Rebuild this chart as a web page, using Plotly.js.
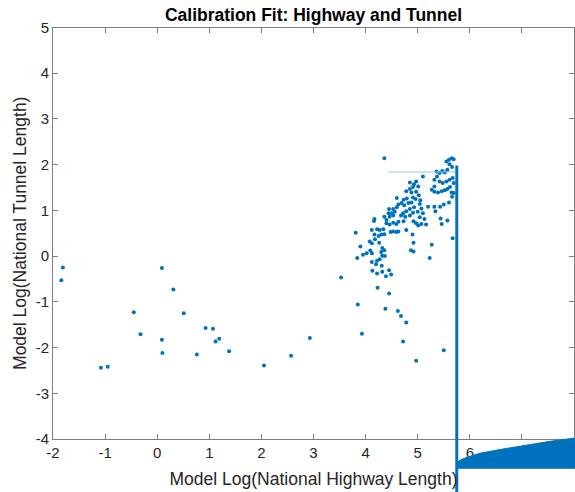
<!DOCTYPE html>
<html>
<head>
<meta charset="utf-8">
<script src="https://cdn.plot.ly/plotly-3.0.1.min.js"></script>
<style>html,body{margin:0;padding:0;background:#fff;}#chart{width:575px;height:492px;}</style>
</head>
<body>
<div id="chart"></div>
<script>
// Scatter: model log highway length (x) vs model log tunnel length (y)
const highwayLog = [
  -1.81,-1.84,0.09,0.31,-0.45,0.51,-0.32,0.93,1.07,1.19,1.12,0.09,0.10,0.76,1.38,-1.08,-0.95,2.05,2.57,2.93,
  5.55,5.60,5.65,5.69,5.61,5.66,5.57,5.52,5.47,5.42,5.36,5.37,5.32,5.42,5.48,5.55,5.61,5.67,5.69,5.62,
  5.57,5.52,5.46,5.39,5.32,5.27,5.32,5.10,4.85,4.93,4.97,4.91,4.85,4.78,4.88,4.97,5.01,5.02,4.91,4.79,
  4.73,4.69,4.74,4.82,4.88,4.96,5.05,5.04,4.93,4.85,4.78,4.72,4.68,4.76,4.85,4.91,5.00,5.07,5.10,5.20,
  5.32,5.34,5.43,5.50,5.60,5.66,5.69,5.65,5.13,5.04,5.44,5.57,
  4.16,4.22,4.27,4.34,4.40,4.46,4.53,4.59,4.63,4.48,4.53,4.59,4.63,4.12,4.17,4.25,4.30,4.36,3.81,4.18,
  4.08,4.12,4.26,3.90,4.09,4.32,4.30,4.36,4.37,4.02,3.95,3.84,4.12,4.32,4.27,4.22,4.12,4.20,4.31,4.13,
  4.32,4.45,4.49,4.39,4.22,3.53,4.23,
  4.73,4.92,4.97,5.01,5.07,5.16,5.46,4.78,4.90,4.92,4.87,4.92,5.27,5.23,5.67,
  4.45,3.85,4.38,4.62,3.93,4.68,4.78,4.72,5.50,4.97,
  4.36,4.60,4.63,4.60,4.53,4.45,4.44,4.50,4.56,4.36,4.46,4.53,4.40,4.17
];
const tunnelLog = [
  -0.25,-0.53,-0.26,-0.73,-1.23,-1.25,-1.71,-1.57,-1.59,-1.81,-1.87,-1.83,-2.12,-2.15,-2.08,-2.44,-2.42,-2.39,-2.18,-1.79,
  2.07,2.11,2.14,2.12,2.01,1.95,1.89,1.83,1.86,1.82,1.85,1.74,1.67,1.63,1.60,1.63,1.67,1.71,1.60,1.51,
  1.47,1.44,1.42,1.39,1.41,1.45,1.52,1.74,1.61,1.57,1.63,1.51,1.47,1.42,1.39,1.41,1.52,1.33,1.28,1.26,
  1.23,1.16,1.11,1.16,1.17,1.25,1.22,1.14,1.07,1.03,0.98,0.94,0.89,0.86,0.89,0.95,0.97,1.04,0.94,1.08,
  1.08,0.98,1.08,1.13,1.17,1.30,1.38,1.39,0.81,0.85,0.82,0.78,
  0.77,0.59,0.57,0.59,0.72,0.69,0.73,0.70,0.75,0.53,0.54,0.53,0.54,0.57,0.47,0.44,0.47,0.48,0.51,0.37,
  0.32,0.28,0.29,0.21,0.12,0.18,0.09,0.13,0.00,0.06,0.03,-0.04,0.06,0.01,-0.07,-0.10,-0.13,-0.18,-0.21,-0.32,
  -0.34,-0.31,-0.40,-0.44,-0.38,-0.47,-0.69,
  0.76,0.76,0.72,0.67,0.70,0.69,0.70,0.57,0.47,0.29,0.13,0.10,0.25,-0.04,0.39,
  -0.82,-1.06,-1.15,-1.20,-1.70,-1.31,-1.45,-1.87,-2.06,-2.29,
  2.14,1.27,1.13,1.07,1.03,1.03,0.94,0.94,0.97,0.86,0.86,0.89,0.79,0.81
];

// Fit artefacts
const hLineX = [4.43, 5.72];
const hLineY = [1.84, 1.84];
const vLineX = [5.75, 5.75];
const vLineY = [1.98, -5.3];
const fillX = [5.75, 5.80, 5.94, 6.20, 6.58, 7.03, 7.54, 8.02, 8.02, 5.75, 5.75];
const fillY = [-4.55, -4.47, -4.40, -4.31, -4.23, -4.14, -4.05, -3.98, -4.64, -4.64, -4.55];

// Axes
const xTickVals = [-2,-1,0,1,2,3,4,5,6,7,8];
const xTickText = ['-2','-1','0','1','2','3','4','5','6','7','8'];
const yTickVals = [-4,-3,-2,-1,0,1,2,3,4,5];
const yTickText = ['-4','-3','-2','-1','0','1','2','3','4','5'];
const xRange = [-2, 8];
const yRange = [-4, 5];

const W = 575, H = 492;
const xDom = [53 / W, 574 / W];
const yDom = [(H - 439) / H, (H - 27.5) / H];
// extended ranges for an invisible full-canvas subplot (same data scale, no clipping at plot edge)
const xppu = (xDom[1] - xDom[0]) * W / (xRange[1] - xRange[0]);
const yppu = (yDom[1] - yDom[0]) * H / (yRange[1] - yRange[0]);
const x2Range = [xRange[0] - xDom[0] * W / xppu, xRange[1] + (1 - xDom[1]) * W / xppu];
const y2Range = [yRange[0] - yDom[0] * H / yppu, yRange[1] + (1 - yDom[1]) * H / yppu];

const blue = '#0072BD';
const font = 'Liberation Sans, Arial, Helvetica, sans-serif';
const axisColor = '#7f7f7f';

const traces = [
  {type: 'scatter', mode: 'markers', x: highwayLog, y: tunnelLog, xaxis: 'x', yaxis: 'y',
   marker: {color: blue, size: 4}, hoverinfo: 'x+y', showlegend: false},
  {type: 'scatter', mode: 'lines', x: hLineX, y: hLineY, xaxis: 'x', yaxis: 'y',
   line: {color: '#9fc6e6', width: 1}, showlegend: false},
  {type: 'scatter', mode: 'lines', x: fillX, y: fillY, xaxis: 'x2', yaxis: 'y2',
   fill: 'toself', fillcolor: blue, line: {color: blue, width: 1}, showlegend: false},
  {type: 'scatter', mode: 'lines', x: vLineX, y: vLineY, xaxis: 'x2', yaxis: 'y2',
   line: {color: blue, width: 3}, showlegend: false}
];

const layout = {
  width: W, height: H,
  margin: {l: 0, r: 0, t: 0, b: 0},
  paper_bgcolor: '#ffffff',
  plot_bgcolor: 'rgba(0,0,0,0)',
  font: {family: font, color: '#262626'},
  showlegend: false,
  title: {text: 'Calibration Fit: Highway and Tunnel', x: (xDom[0] + xDom[1]) / 2, xanchor: 'center',
          y: 1 - 15 / H, yanchor: 'middle', yref: 'paper',
          font: {family: font, size: 17.5, weight: 'bold', color: '#000000'}},
  xaxis: {domain: xDom, range: xRange, anchor: 'y', tickvals: xTickVals, ticktext: xTickText,
          ticks: 'inside', ticklen: 5, tickwidth: 1, tickcolor: axisColor,
          showline: true, linecolor: axisColor, linewidth: 1, mirror: 'ticks',
          showgrid: false, zeroline: false, tickfont: {size: 15, color: '#262626'},
          title: {text: 'Model Log(National Highway Length)', standoff: 12, font: {size: 17.5, color: '#262626'}}},
  yaxis: {domain: yDom, range: yRange, anchor: 'x', tickvals: yTickVals, ticktext: yTickText,
          ticks: 'inside', ticklen: 5, tickwidth: 1, tickcolor: axisColor,
          showline: true, linecolor: axisColor, linewidth: 1, mirror: 'ticks',
          showgrid: false, zeroline: false, tickfont: {size: 15, color: '#262626'},
          title: {text: 'Model Log(National Tunnel Length)', standoff: 4, font: {size: 17.5, color: '#262626'}}},
  xaxis2: {domain: [0, 1], range: x2Range, anchor: 'y2', visible: false, fixedrange: true},
  yaxis2: {domain: [0, 1], range: y2Range, anchor: 'x2', visible: false, fixedrange: true}
};

Plotly.newPlot('chart', traces, layout, {displayModeBar: false, staticPlot: true});
</script>
</body>
</html>
